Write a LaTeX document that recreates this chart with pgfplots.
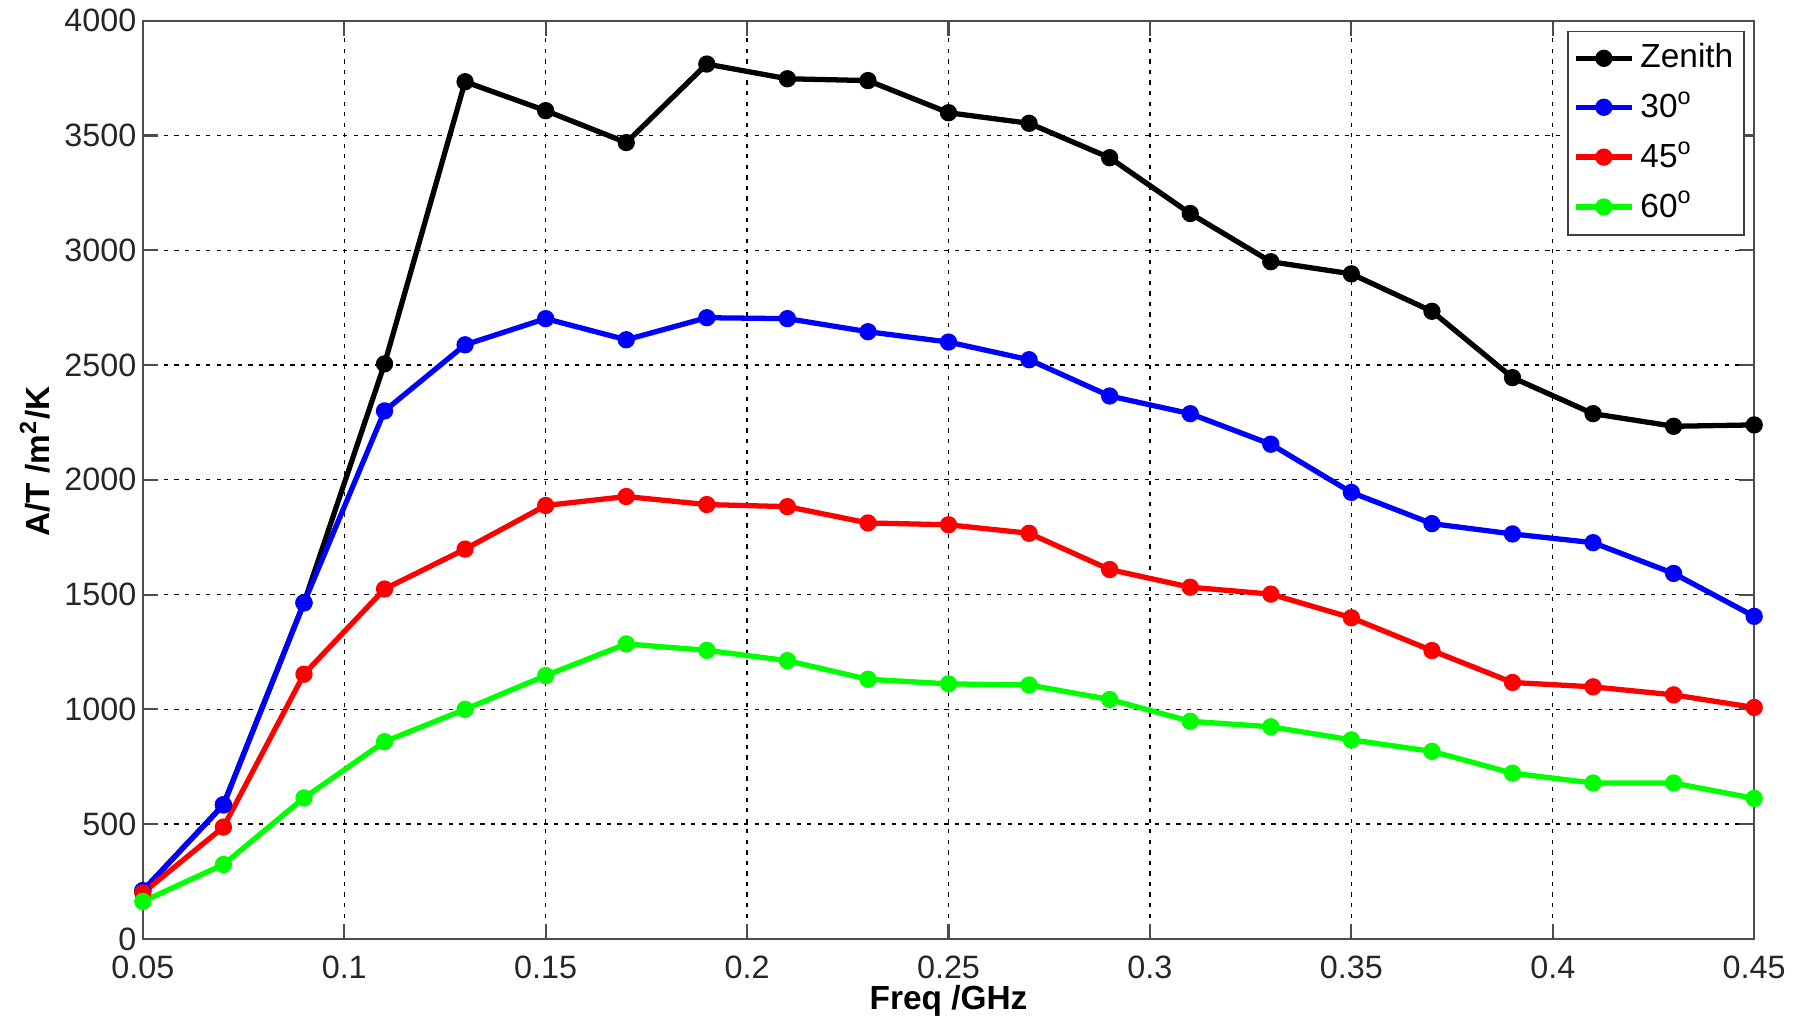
\documentclass[border=0pt]{standalone}
\usepackage{pgfplots}
\pgfplotsset{compat=1.18}
\usepackage{pgfplotstable}
\usepackage{fontspec}
\setmainfont{Liberation Sans}

\pgfplotstableread{
x     z     a    b    c
0.05  210   210  200  163
0.07  584   584  487  324
0.09  1464  1464 1153 614
0.11  2505  2300 1524 859
0.13  3734  2588 1698 1000
0.15  3608  2702 1888 1147
0.17  3469  2610 1927 1285
0.19  3811  2706 1892 1257
0.21  3747  2702 1883 1212
0.23  3739  2645 1812 1131
0.25  3599  2600 1804 1111
0.27  3553  2523 1767 1106
0.29  3403  2365 1609 1043
0.31  3160  2288 1532 948
0.33  2950  2155 1502 924
0.35  2897  1945 1399 867
0.37  2734  1809 1256 817
0.39  2445  1764 1117 722
0.41  2288  1726 1098 679
0.43  2233  1592 1063 679
0.45  2239  1405 1008 612
}\data

\begin{document}
\begin{tikzpicture}
\begin{axis}[
  name=ax,
  scale only axis,
  width=161.1mm, height=91.8mm,
  xmin=0.05, xmax=0.45, ymin=0, ymax=4000,
  clip=false,
  xtick={0.05,0.1,0.15,0.2,0.25,0.3,0.35,0.4,0.45},
  xticklabels={0.05,0.1,0.15,0.2,0.25,0.3,0.35,0.4,0.45},
  ytick={0,500,1000,1500,2000,2500,3000,3500,4000},
  yticklabel style={/pgf/number format/1000 sep={}, /pgf/number format/assume math mode=true, inner ysep=0pt, xshift=0.6mm},
  xticklabel style={inner ysep=0pt, yshift=-1.6mm},
  tick label style={font=\fontsize{9.2}{10}\selectfont, text=black!85},
  grid=major,
  major grid style={black, line width=0.4pt, dash pattern=on 1.2pt off 1.8pt},
  axis line style={black!70, line width=0.6pt},
  tick style={black!70, line width=0.6pt},
  tick align=inside,
  major tick length=1.5mm,
  xlabel={\bfseries Freq /GHz},
  ylabel={\bfseries A/T /m\textsuperscript{2}/K},
  xlabel style={font=\fontsize{9.5}{11}\selectfont, at={(axis description cs:0.5,0)}, anchor=north, inner sep=0pt, yshift=-4.6mm},
  ylabel style={font=\fontsize{9.5}{11}\selectfont, at={(axis description cs:-0.0571,0.52)}, anchor=south, inner sep=0pt},
  legend style={at={(1,1)}, anchor=north east, xshift=-0.9mm, yshift=-1.0mm,
    draw=black!75, line width=0.5pt, font=\fontsize{9.5}{11}\selectfont,
    row sep=0.45mm, inner xsep=0.5mm, inner ysep=0.5mm,
    nodes={inner xsep=0.6mm}},
  legend cell align=left,
  legend image code/.code={\draw[mark repeat=2,mark phase=2] plot coordinates {(0mm,0mm) (2.8mm,0mm) (5.6mm,0mm)};},
  every axis plot/.append style={line width=1.5pt, mark=*, mark size=1.7pt, mark options={solid}},
]
\addplot[black, mark options={fill=black}] table[x=x, y=z] {\data};
\addlegendentry{Zenith}
\addplot[blue, mark options={fill=blue}] table[x=x, y=a] {\data};
\addlegendentry{30\textsuperscript{o}}
\addplot[red, mark options={fill=red}] table[x=x, y=b] {\data};
\addlegendentry{45\textsuperscript{o}}
\addplot[green, mark options={fill=green}] table[x=x, y=c] {\data};
\addlegendentry{60\textsuperscript{o}}
\end{axis}
\pgfresetboundingbox
\path ([xshift=-14.28mm,yshift=-8.23mm]ax.south west) rectangle ([xshift=5.18mm,yshift=2.07mm]ax.north east);
\end{tikzpicture}
\end{document}
